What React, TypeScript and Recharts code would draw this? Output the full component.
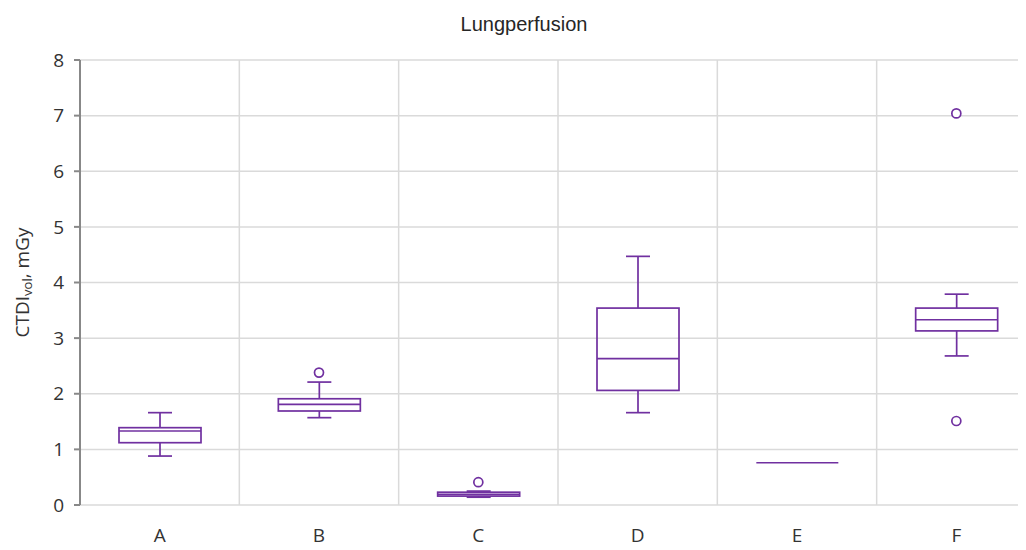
import { ComposedChart, Bar, Line, XAxis, YAxis, CartesianGrid } from 'recharts';

const categories = ['A', 'B', 'C', 'D', 'E', 'F'];
const whiskerLow = [0.88, 1.57, 0.14, 1.66, 0.76, 2.68];
const quartile1 = [1.12, 1.69, 0.16, 2.06, 0.76, 3.13];
const medians = [1.33, 1.81, 0.19, 2.63, 0.76, 3.33];
const quartile3 = [1.39, 1.91, 0.23, 3.54, 0.76, 3.54];
const whiskerHigh = [1.66, 2.21, 0.25, 4.47, 0.76, 3.79];
const outliersHigh = [null, 2.38, 0.41, null, null, 7.04];
const outliersLow = [null, null, null, null, null, 1.51];
const yTicks = [0, 1, 2, 3, 4, 5, 6, 7, 8];
const gridTicks = [0, 1, 2, 3, 4, 5, 6];

const PURPLE = '#7030a0';
const AXIS = '#888888';
const FONT = "'Open Sans', sans-serif";

const data = categories.map((name, i) => ({
    name,
    slot: i + 0.5,
    range: [whiskerLow[i], whiskerHigh[i]],
    low: whiskerLow[i],
    q1: quartile1[i],
    med: medians[i],
    q3: quartile3[i],
    high: whiskerHigh[i],
    outHi: outliersHigh[i],
    outLo: outliersLow[i],
}));

// draws the box + whiskers inside the bar's [low, high] pixel span
function BoxShape(props: any) {
    const { x, y, width, height, payload } = props;
    const top = Math.min(y, y + height);
    const h = Math.abs(height);
    const { low, q1, med, q3, high } = payload;
    const span = high - low;
    const py = (v: number) => (span === 0 ? top : top + ((high - v) / span) * h);
    const cx = x + width / 2;
    const cap = 12;
    return (
        <g stroke={PURPLE} strokeWidth={1.7} fill="none">
            <line x1={cx} x2={cx} y1={py(high)} y2={py(q3)} />
            <line x1={cx} x2={cx} y1={py(q1)} y2={py(low)} />
            {high > q3 && <line x1={cx - cap} x2={cx + cap} y1={py(high)} y2={py(high)} />}
            {low < q1 && <line x1={cx - cap} x2={cx + cap} y1={py(low)} y2={py(low)} />}
            <rect x={x} y={py(q3)} width={width} height={Math.max(py(q1) - py(q3), 0)} />
            <line x1={x} x2={x + width} y1={py(med)} y2={py(med)} />
        </g>
    );
}

function OutlierDot(props: any) {
    const { cx, cy, value } = props;
    if (value == null || cx == null || cy == null) return null;
    return <circle cx={cx} cy={cy} r={4.5} stroke={PURPLE} strokeWidth={1.7} fill="#fff" />;
}

function YLabel(props: any) {
    const { viewBox } = props;
    const x = viewBox.x + 24;
    const y = viewBox.y + viewBox.height / 2;
    return (
        <text
            x={x}
            y={y}
            transform={`rotate(-90, ${x}, ${y})`}
            textAnchor="middle"
            dominantBaseline="middle"
            fill="#333"
            fontSize={19}
            fontFamily={FONT}
        >
            <tspan>CTDI</tspan>
            <tspan fontSize={13} dy={5}>vol</tspan>
            <tspan dy={-5}>, mGy</tspan>
        </text>
    );
}

export default function App() {
    return (
        <div style={{ margin: -8, width: 1026, height: 550, overflow: 'hidden', position: 'relative', background: '#fff' }}>
            <div
                style={{
                    position: 'absolute',
                    top: 13,
                    left: 0,
                    width: 1048,
                    textAlign: 'center',
                    fontFamily: "'Liberation Sans', Arial, sans-serif",
                    fontSize: 20,
                    color: '#262626',
                }}
            >
                Lungperfusion
            </div>
            <ComposedChart width={1040} height={550} data={data} margin={{ top: 60, right: 4, bottom: 0, left: 0 }}>
                <CartesianGrid xAxisId="grid" stroke="#dadada" strokeWidth={1.5} />
                <XAxis
                    xAxisId="grid"
                    dataKey="slot"
                    type="number"
                    domain={[0, 6]}
                    allowDataOverflow
                    ticks={gridTicks}
                    height={0}
                    tickSize={7}
                    tickFormatter={() => ''}
                    axisLine={{ stroke: AXIS, strokeWidth: 2 }}
                    tickLine={{ stroke: AXIS, strokeWidth: 2 }}
                />
                <XAxis
                    xAxisId="cat"
                    dataKey="name"
                    height={45}
                    axisLine={false}
                    tickLine={false}
                    tickSize={0}
                    tickMargin={24}
                    tick={{ fill: '#333', fontSize: 19, fontFamily: FONT }}
                />
                <YAxis
                    domain={[0, 8]}
                    ticks={yTicks}
                    width={80}
                    tickSize={6}
                    tickMargin={10}
                    axisLine={{ stroke: AXIS, strokeWidth: 2 }}
                    tickLine={{ stroke: AXIS, strokeWidth: 2 }}
                    tick={{ fill: '#333', fontSize: 19, fontFamily: FONT }}
                    label={<YLabel />}
                />
                <Bar xAxisId="cat" dataKey="range" barSize={82} shape={<BoxShape />} isAnimationActive={false} />
                <Line xAxisId="cat" dataKey="outHi" stroke="none" dot={<OutlierDot />} activeDot={false} isAnimationActive={false} />
                <Line xAxisId="cat" dataKey="outLo" stroke="none" dot={<OutlierDot />} activeDot={false} isAnimationActive={false} />
            </ComposedChart>
        </div>
    );
}
